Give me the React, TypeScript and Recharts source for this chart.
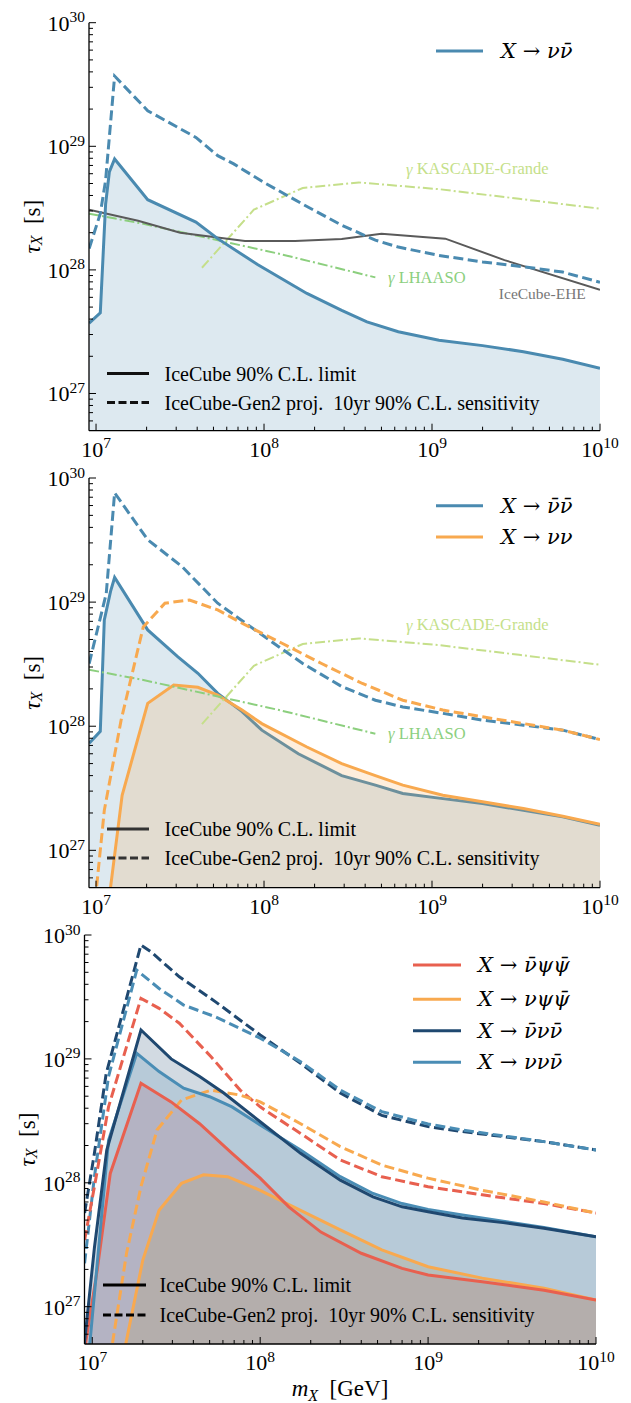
import React from 'react';
import { ComposedChart, Line, Area, XAxis, YAxis, Legend, ReferenceDot } from 'recharts';

const SERIF = '"Liberation Serif", "DejaVu Serif", serif';
const MATH = '"DejaVu Serif", "Liberation Serif", serif';
const W = 631;
const X_MAX = 1e10;
const Y_MIN = 5e26;
const Y_MAX = 1e30;

// tick values
const X_MAJOR = [1e7, 1e8, 1e9, 1e10];
const Y_MAJOR = [1e27, 1e28, 1e29, 1e30];
const MINOR_MULT = [2, 3, 4, 5, 6, 7, 8, 9];
const X_TICKS = [...X_MAJOR, ...[1e7, 1e8, 1e9].flatMap((d) => MINOR_MULT.map((k) => k * d))];
const Y_TICKS = [
  ...Y_MAJOR,
  6e26, 7e26, 8e26, 9e26,
  ...[1e27, 1e28, 1e29].flatMap((d) => MINOR_MULT.map((k) => k * d)),
];

// colours
const BLUE = '#4a8ab0';
const ORANGE = '#f8a94f';
const RED = '#e8604f';
const NAVY = '#1f4870';
const BLUE3 = '#4a8db5';
const LHAASO_C = '#8ccf7e';
const KASCADE_C = '#c5df8a';
const EHE_C = '#5a5a5a';

// ---------- shared gamma-ray / EHE bounds ----------
const lhaasoM = [9.1e6, 1.88e7, 4.55e7, 1.23e8, 4.6e8];
const lhaasoT = [2.85e28, 2.37e28, 1.82e28, 1.35e28, 8.7e27];
const kascadeM = [4.27e7, 8.7e7, 1.7e8, 3.67e8, 1.1e9, 3.3e9, 1e10];
const kascadeT = [1.04e28, 3.07e28, 4.6e28, 5.1e28, 4.5e28, 3.76e28, 3.13e28];
const eheM = [9.1e6, 1.78e7, 3.17e7, 7.7e7, 1.53e8, 2.9e8, 5e8, 1.2e9, 2.7e9, 1e10];
const eheT = [3.07e28, 2.5e28, 2.0e28, 1.71e28, 1.71e28, 1.78e28, 1.96e28, 1.79e28, 1.2e28, 6.9e27];

// ---------- panel 1: X -> nu nubar ----------
const p1LimM = [9.1e6, 1.06e7, 1.14e7, 1.2e7, 1.29e7, 2.03e7, 3.93e7, 5.3e7, 9.2e7, 1.8e8, 2.9e8, 4.1e8, 6.3e8, 1.1e9, 2.0e9, 3.5e9, 6.0e9, 1e10];
const p1LimT = [3.7e27, 4.5e27, 3.4e28, 6.2e28, 7.9e28, 3.7e28, 2.44e28, 1.79e28, 1.1e28, 6.45e27, 4.7e27, 3.8e27, 3.16e27, 2.7e27, 2.44e27, 2.18e27, 1.89e27, 1.6e27];
const p1SenM = [9.1e6, 1.06e7, 1.14e7, 1.29e7, 2.03e7, 3.93e7, 5.3e7, 6.6e7, 1e8, 1.7e8, 2.9e8, 4.6e8, 6.3e8, 1.1e9, 2e9, 3.5e9, 6e9, 1e10];
const p1SenT = [1.49e28, 2.85e28, 5.3e28, 3.7e29, 1.94e29, 1.18e29, 8.4e28, 7.2e28, 5.1e28, 3.4e28, 2.3e28, 1.74e28, 1.53e28, 1.31e28, 1.16e28, 1.06e28, 9.6e27, 7.95e27];

// ---------- panel 2: X -> nubar nubar, X -> nu nu ----------
const p2BarLimM = [9.1e6, 1.06e7, 1.12e7, 1.22e7, 1.29e7, 2.03e7, 3.06e7, 4.04e7, 5.3e7, 7.4e7, 9.7e7, 1.6e8, 2.9e8, 4.6e8, 6.7e8, 1.16e9, 2e9, 3.5e9, 6e9, 1e10];
const p2BarLimT = [7.3e27, 9.1e27, 7.2e28, 1.22e29, 1.58e29, 5.97e28, 3.63e28, 2.67e28, 1.84e28, 1.31e28, 9.3e27, 6.0e27, 4.0e27, 3.35e27, 2.87e27, 2.61e27, 2.38e27, 2.1e27, 1.86e27, 1.59e27];
const p2BarSenM = [9.1e6, 1.15e7, 1.29e7, 2.03e7, 3.24e7, 5.3e7, 1e8, 1.7e8, 2.9e8, 4.6e8, 6.7e8, 1.16e9, 2e9, 3.5e9, 6e9, 1e10];
const p2BarSenT = [3.2e28, 1.17e29, 7.6e29, 3.18e29, 1.94e29, 9.8e28, 5.3e28, 3.2e28, 2.09e28, 1.62e28, 1.43e28, 1.27e28, 1.12e28, 1.02e28, 9.3e27, 7.8e27];
const p2NuLimM = [1.17e7, 1.43e7, 2.03e7, 2.9e7, 4.04e7, 5.3e7, 7.4e7, 9.7e7, 1.8e8, 2.9e8, 4.6e8, 6.7e8, 1.16e9, 2e9, 3.5e9, 6e9, 1e10];
const p2NuLimT = [3.2e26, 2.78e27, 1.53e28, 2.15e28, 2.06e28, 1.78e28, 1.35e28, 1.05e28, 6.8e27, 5.0e27, 4.0e27, 3.35e27, 2.78e27, 2.46e27, 2.17e27, 1.88e27, 1.62e27];
const p2NuSenM = [9.5e6, 1.12e7, 1.41e7, 1.91e7, 2.57e7, 3.6e7, 5.3e7, 7.4e7, 1.28e8, 2.2e8, 3.85e8, 6.7e8, 1.16e9, 2e9, 3.5e9, 6e9, 1e10];
const p2NuSenT = [2.3e26, 2.1e27, 1.12e28, 6.3e28, 9.8e28, 1.04e29, 8.65e28, 6.76e28, 4.66e28, 3.2e28, 2.21e28, 1.62e28, 1.35e28, 1.19e28, 1.05e28, 9.3e27, 7.8e27];

// ---------- panel 3: three-body decays ----------
const p3NavyLimM = [8.9e6, 1.03e7, 1.22e7, 1.95e7, 2.95e7, 4.36e7, 6.07e7, 1e8, 1.74e8, 3e8, 4.7e8, 7e8, 1e9, 1.6e9, 2.8e9, 4.9e9, 1e10];
const p3NavyLimT = [4.5e26, 3.0e27, 1.84e28, 1.71e29, 1e29, 7.2e28, 5.3e28, 3.11e28, 1.73e28, 1.05e28, 7.7e27, 6.4e27, 5.85e27, 5.2e27, 4.77e27, 4.3e27, 3.67e27];
const p3BlueLimM = [9.6e6, 1.25e7, 1.84e7, 2.5e7, 3.5e7, 5e7, 6.8e7, 1e8, 1.74e8, 3e8, 4.7e8, 7e8, 1e9, 1.6e9, 2.8e9, 4.9e9, 1e10];
const p3BlueLimT = [4.5e26, 2.2e28, 1.11e29, 7.9e28, 5.8e28, 4.95e28, 4.1e28, 2.93e28, 1.84e28, 1.12e28, 8.2e27, 6.8e27, 6.1e27, 5.5e27, 4.9e27, 4.36e27, 3.67e27];
const p3RedLimM = [9.0e6, 1.07e7, 1.28e7, 1.95e7, 2.95e7, 4.36e7, 6.8e7, 1e8, 1.48e8, 2.3e8, 4e8, 7e8, 1e9, 2.1e9, 4.9e9, 1e10];
const p3RedLimT = [4.5e26, 1.98e27, 1.19e28, 6.36e28, 4.5e28, 3.0e28, 1.73e28, 1.09e28, 6.4e27, 4e27, 2.7e27, 2.04e27, 1.8e27, 1.59e27, 1.36e27, 1.13e27];
const p3OrgLimM = [1.5e7, 2e7, 2.5e7, 3.4e7, 4.6e7, 6.4e7, 1e8, 1.74e8, 3e8, 5.3e8, 1e9, 2.1e9, 4.9e9, 1e10];
const p3OrgLimT = [3.5e26, 2.38e27, 6e27, 9.9e27, 1.16e28, 1.12e28, 8.7e27, 6e27, 4.17e27, 2.87e27, 2.1e27, 1.7e27, 1.41e27, 1.13e27];
const p3NavySenM = [9.0e6, 1.03e7, 1.21e7, 1.95e7, 2.24e7, 3.3e7, 5.4e7, 1e8, 1.74e8, 3e8, 5.3e8, 1e9, 1.6e9, 2.8e9, 4.9e9, 1e10];
const p3NavySenT = [5.7e27, 1.73e28, 7.6e28, 8.3e29, 7.3e29, 4.6e29, 2.9e29, 1.56e29, 9.2e28, 5.3e28, 3.5e28, 2.84e28, 2.59e28, 2.36e28, 2.15e28, 1.84e28];
const p3BlueSenM = [9.0e6, 1.03e7, 1.25e7, 1.84e7, 2.5e7, 3.5e7, 5.4e7, 1e8, 1.74e8, 3e8, 5.3e8, 1e9, 1.6e9, 2.8e9, 4.9e9, 1e10];
const p3BlueSenT = [2.24e27, 1.12e28, 7.2e28, 5.2e29, 3.7e29, 2.72e29, 2.19e29, 1.47e29, 9.5e28, 5.6e28, 3.75e28, 2.98e28, 2.67e28, 2.39e28, 2.15e28, 1.84e28];
const p3RedSenM = [9.0e6, 1.03e7, 1.25e7, 1.95e7, 2.5e7, 3.3e7, 5.1e7, 7.6e7, 1e8, 1.74e8, 3e8, 5.3e8, 1e9, 2.1e9, 4.9e9, 1e10];
const p3RedSenT = [3.45e27, 9.3e27, 4.1e28, 3.08e29, 2.56e29, 1.94e29, 1.04e29, 5.6e28, 4.1e28, 2.5e28, 1.53e28, 1.12e28, 9.3e27, 8e27, 6.8e27, 5.7e27];
const p3OrgSenM = [1.28e7, 1.6e7, 1.95e7, 2.43e7, 3.4e7, 5.1e7, 7.6e7, 1e8, 1.74e8, 3e8, 5.3e8, 1e9, 2.1e9, 4.9e9, 1e10];
const p3OrgSenT = [3.9e26, 2.7e27, 9.3e27, 2.67e28, 4.66e28, 5.6e28, 5.1e28, 4.5e28, 3.0e28, 1.96e28, 1.39e28, 1.09e28, 8.7e27, 7.0e27, 5.7e27];

// legend labels
const p1Legend = [{ label: 'X → νν\u0304', color: BLUE }];
const p2Legend = [
  { label: 'X → ν\u0304ν\u0304', color: BLUE },
  { label: 'X → νν', color: ORANGE },
];
const p3Legend = [
  { label: 'X → ν\u0304ψψ\u0304', color: RED },
  { label: 'X → νψψ\u0304', color: ORANGE },
  { label: 'X → ν\u0304νν\u0304', color: NAVY },
  { label: 'X → ννν\u0304', color: BLUE3 },
];
const styleLegend = ['IceCube 90% C.L. limit', 'IceCube-Gen2 proj.\u00a0 10yr 90% C.L. sensitivity'];

// annotation anchors (data coordinates)
const kascadeLabel = { m: 7.0e8, t: 6.6e28, text: 'KASCADE-Grande' };
const lhaasoLabel = { m: 5.47e8, t: 8.75e27, text: 'LHAASO' };
const eheLabel = { m: 2.5e9, t: 6.5e27, text: 'IceCube-EHE' };

const zip = (m: number[], t: number[]) => m.map((v, i) => ({ m: v, t: t[i] }));

const isMajor = (v: number) => Math.abs(Math.log10(v) - Math.round(Math.log10(v))) < 1e-6;
const expOf = (v: number) => Math.round(Math.log10(v));
const MAJ = 7;
const MIN = 4;
const TICK_FS = 22;
const SUP_FS = 15.5;

function BottomTick(props: any) {
  const { x, y, payload } = props;
  const v = payload.value;
  const maj = isMajor(v);
  return (
    <g>
      <line x1={x} x2={x} y1={y} y2={y - (maj ? MAJ : MIN)} stroke="#000" strokeWidth={1} />
      {maj && (
        <text x={x} y={y + 26} textAnchor="middle" fontFamily={SERIF} fontSize={TICK_FS} fill="#000">
          10<tspan fontSize={SUP_FS} dy={-8.5}>{expOf(v)}</tspan>
        </text>
      )}
    </g>
  );
}
function TopTick(props: any) {
  const { x, y, payload } = props;
  const maj = isMajor(payload.value);
  return <line x1={x} x2={x} y1={y} y2={y + (maj ? MAJ : MIN)} stroke="#000" strokeWidth={1} />;
}
function LeftTick(props: any) {
  const { x, y, payload } = props;
  const v = payload.value;
  const maj = isMajor(v);
  return (
    <g>
      <line x1={x} x2={x + (maj ? MAJ : MIN)} y1={y} y2={y} stroke="#000" strokeWidth={1} />
      {maj && (
        <text x={x - 4} y={y + 8} textAnchor="end" fontFamily={SERIF} fontSize={TICK_FS} fill="#000">
          10<tspan fontSize={SUP_FS} dy={-8.5}>{expOf(v)}</tspan>
        </text>
      )}
    </g>
  );
}
function RightTick(props: any) {
  const { x, y, payload } = props;
  const maj = isMajor(payload.value);
  return <line x1={x} x2={x - (maj ? MAJ : MIN)} y1={y} y2={y} stroke="#000" strokeWidth={1} />;
}

function AnnLabel(props: any) {
  const { viewBox, text, color, size, gamma } = props;
  return (
    <text x={viewBox.x} y={viewBox.y} dominantBaseline="central" fontFamily={SERIF} fontSize={size} fill={color}>
      {gamma && <tspan fontStyle="italic">γ </tspan>}
      {text}
    </text>
  );
}

function MathLabel({ x, y, label, size }: { x: number; y: number; label: string; size: number }) {
  const [lhs, rhs] = label.split(' → ');
  return (
    <text x={x} y={y} dominantBaseline="central" fontFamily={MATH} fontSize={size} fill="#000">
      <tspan fontStyle="italic">{lhs}</tspan> → <tspan fontStyle="italic">{rhs}</tspan>
    </text>
  );
}

type OverlayProps = {
  height: number;
  yLabel: { x: number; y: number };
  top: { x1: number; x2: number; tx: number; ys: number[]; items: { label: string; color: string }[] };
  bottom: { x1: number; x2: number; tx: number; ys: number[]; color: string };
  xLabel?: { x: number; y: number };
};

function Overlay({ height, yLabel, top, bottom, xLabel }: OverlayProps) {
  return (
    <svg width={W} height={height} style={{ display: 'block', overflow: 'visible' }}>
      <text
        transform={`translate(${yLabel.x},${yLabel.y}) rotate(-90)`}
        textAnchor="middle"
        dominantBaseline="central"
        fontFamily={SERIF}
        fontSize={23}
        fill="#000"
      >
        <tspan fontStyle="italic">τ</tspan>
        <tspan fontStyle="italic" fontSize={16} dy={4}>X</tspan>
        <tspan dy={-4}>{'\u00a0 [s]'}</tspan>
      </text>
      {xLabel && (
        <text x={xLabel.x} y={xLabel.y} textAnchor="middle" fontFamily={SERIF} fontSize={23} fill="#000">
          <tspan fontStyle="italic">m</tspan>
          <tspan fontStyle="italic" fontSize={16} dy={5}>X</tspan>
          <tspan dy={-5}>{'\u00a0 [GeV]'}</tspan>
        </text>
      )}
      {top.items.map((it, i) => (
        <g key={i}>
          <line x1={top.x1} x2={top.x2} y1={top.ys[i]} y2={top.ys[i]} stroke={it.color} strokeWidth={3} />
          <MathLabel x={top.tx} y={top.ys[i]} label={it.label} size={21} />
        </g>
      ))}
      {styleLegend.map((txt, i) => (
        <g key={txt}>
          <line
            x1={bottom.x1}
            x2={bottom.x2}
            y1={bottom.ys[i]}
            y2={bottom.ys[i]}
            stroke={bottom.color}
            strokeWidth={2.8}
            strokeDasharray={i === 1 ? '8 3.5' : undefined}
          />
          <text x={bottom.tx} y={bottom.ys[i]} dominantBaseline="central" fontFamily={SERIF} fontSize={20} fill="#000">
            {txt}
          </text>
        </g>
      ))}
    </svg>
  );
}

const AXIS_LINE = { stroke: '#000', strokeWidth: 1.3 };

function Panel(props: {
  height: number;
  top: number;
  right: number;
  left: number;
  bottom: number;
  xMin: number;
  overlay: React.ReactElement;
  children: React.ReactNode;
}) {
  const { height, top, right, left, bottom, xMin, overlay, children } = props;
  const xCommon = {
    dataKey: 'm',
    type: 'number' as const,
    scale: 'log' as const,
    domain: [xMin, X_MAX],
    allowDataOverflow: true,
    ticks: X_TICKS,
    interval: 0 as const,
    tickLine: false,
    tickSize: 0,
    tickMargin: 0,
    axisLine: AXIS_LINE,
  };
  const yCommon = {
    dataKey: 't',
    type: 'number' as const,
    scale: 'log' as const,
    domain: [Y_MIN, Y_MAX],
    allowDataOverflow: true,
    ticks: Y_TICKS,
    interval: 0 as const,
    tickLine: false,
    tickSize: 0,
    tickMargin: 0,
    axisLine: AXIS_LINE,
  };
  return (
    <ComposedChart width={W} height={height} margin={{ top, right, bottom: 0, left: 0 }}>
      <XAxis xAxisId="b" {...xCommon} height={bottom} tick={BottomTick} />
      <XAxis xAxisId="t" orientation="top" {...xCommon} height={0} tick={TopTick} />
      <YAxis yAxisId="l" {...yCommon} width={left} tick={LeftTick} />
      <YAxis yAxisId="r" orientation="right" {...yCommon} width={0} tick={RightTick} />
      {children}
      <Legend
        verticalAlign="middle"
        align="center"
        layout="horizontal"
        wrapperStyle={{ left: 0, top: 0, width: W, height, pointerEvents: 'none' }}
        content={() => overlay}
      />
    </ComposedChart>
  );
}

const ax = { xAxisId: 'b', yAxisId: 'l', isAnimationActive: false, dot: false, activeDot: false, type: 'linear' as const, dataKey: 't' };
const DASH = '10 4.5';
const DASHDOT = '10 3 2 3';

export default function App() {
  return (
    <div style={{ position: 'absolute', left: 0, top: 0, width: W, height: 1403, background: '#fff' }}>
      {/* Panel 1 */}
      <Panel
        height={463}
        top={22.7}
        right={31}
        left={89}
        bottom={32.3}
        xMin={9.08e6}
        overlay={
          <Overlay
            height={463}
            yLabel={{ x: 32, y: 226.7 }}
            top={{ x1: 436, x2: 483, tx: 501, ys: [51], items: p1Legend }}
            bottom={{ x1: 107, x2: 149, tx: 164.5, ys: [373.5, 402.5], color: '#111' }}
          />
        }
      >
        <Area {...ax} data={zip(p1LimM, p1LimT)} stroke="none" fill={BLUE} fillOpacity={0.19} baseValue={Y_MIN} />
        <Line {...ax} data={zip(lhaasoM, lhaasoT)} stroke={LHAASO_C} strokeWidth={2} strokeDasharray={DASHDOT} />
        <Line {...ax} data={zip(kascadeM, kascadeT)} stroke={KASCADE_C} strokeWidth={2} strokeDasharray={DASHDOT} />
        <Line {...ax} data={zip(eheM, eheT)} stroke={EHE_C} strokeWidth={2} />
        <Line {...ax} data={zip(p1SenM, p1SenT)} stroke={BLUE} strokeWidth={3} strokeDasharray={DASH} />
        <Line {...ax} data={zip(p1LimM, p1LimT)} stroke={BLUE} strokeWidth={3} />
        <ReferenceDot xAxisId="b" yAxisId="l" x={kascadeLabel.m} y={kascadeLabel.t} r={0} fill="none" stroke="none" ifOverflow="visible"
          label={<AnnLabel text={kascadeLabel.text} color={KASCADE_C} size={16.5} gamma />} />
        <ReferenceDot xAxisId="b" yAxisId="l" x={lhaasoLabel.m} y={lhaasoLabel.t} r={0} fill="none" stroke="none" ifOverflow="visible"
          label={<AnnLabel text={lhaasoLabel.text} color={LHAASO_C} size={16.5} gamma />} />
        <ReferenceDot xAxisId="b" yAxisId="l" x={eheLabel.m} y={eheLabel.t} r={0} fill="none" stroke="none" ifOverflow="visible"
          label={<AnnLabel text={eheLabel.text} color="#777" size={15.5} />} />
      </Panel>

      {/* Panel 2 */}
      <Panel
        height={457}
        top={15}
        right={31}
        left={89}
        bottom={32.3}
        xMin={9.08e6}
        overlay={
          <Overlay
            height={457}
            yLabel={{ x: 32, y: 219.9 }}
            top={{ x1: 436, x2: 483, tx: 501, ys: [42.7, 74], items: p2Legend }}
            bottom={{ x1: 107, x2: 149, tx: 164.5, ys: [366, 395], color: '#333' }}
          />
        }
      >
        <Line {...ax} data={zip(lhaasoM, lhaasoT)} stroke={LHAASO_C} strokeWidth={2} strokeDasharray={DASHDOT} />
        <Line {...ax} data={zip(kascadeM, kascadeT)} stroke={KASCADE_C} strokeWidth={2} strokeDasharray={DASHDOT} />
        <Area {...ax} data={zip(p2BarLimM, p2BarLimT)} stroke={BLUE} strokeWidth={3} fill={BLUE} fillOpacity={0.19} baseValue={Y_MIN} />
        <Area {...ax} data={zip(p2NuLimM, p2NuLimT)} stroke={ORANGE} strokeWidth={3} fill={ORANGE} fillOpacity={0.2} baseValue={Y_MIN} />
        <Line {...ax} data={zip(p2BarSenM, p2BarSenT)} stroke={BLUE} strokeWidth={3} strokeDasharray={DASH} />
        <Line {...ax} data={zip(p2NuSenM, p2NuSenT)} stroke={ORANGE} strokeWidth={3} strokeDasharray={DASH} />
        <ReferenceDot xAxisId="b" yAxisId="l" x={kascadeLabel.m} y={kascadeLabel.t} r={0} fill="none" stroke="none" ifOverflow="visible"
          label={<AnnLabel text={kascadeLabel.text} color={KASCADE_C} size={16.5} gamma />} />
        <ReferenceDot xAxisId="b" yAxisId="l" x={lhaasoLabel.m} y={lhaasoLabel.t} r={0} fill="none" stroke="none" ifOverflow="visible"
          label={<AnnLabel text={lhaasoLabel.text} color={LHAASO_C} size={16.5} gamma />} />
      </Panel>

      {/* Panel 3 */}
      <Panel
        height={483}
        top={15}
        right={35}
        left={84.5}
        bottom={59}
        xMin={8.99e6}
        overlay={
          <Overlay
            height={483}
            yLabel={{ x: 27, y: 219.5 }}
            top={{ x1: 413, x2: 461, tx: 478, ys: [45, 79.3, 110.7, 142.3], items: p3Legend }}
            bottom={{ x1: 103, x2: 146, tx: 159.5, ys: [365, 395], color: '#000' }}
            xLabel={{ x: 340, y: 476 }}
          />
        }
      >
        <Area {...ax} data={zip(p3NavyLimM, p3NavyLimT)} stroke="none" fill={NAVY} fillOpacity={0.2} baseValue={Y_MIN} />
        <Area {...ax} data={zip(p3BlueLimM, p3BlueLimT)} stroke="none" fill={BLUE3} fillOpacity={0.2} baseValue={Y_MIN} />
        <Area {...ax} data={zip(p3RedLimM, p3RedLimT)} stroke="none" fill="#ab6f82" fillOpacity={0.25} baseValue={Y_MIN} />
        <Area {...ax} data={zip(p3OrgLimM, p3OrgLimT)} stroke="none" fill="#b4a068" fillOpacity={0.25} baseValue={Y_MIN} />
        <Line {...ax} data={zip(p3NavySenM, p3NavySenT)} stroke={NAVY} strokeWidth={3} strokeDasharray={DASH} />
        <Line {...ax} data={zip(p3BlueSenM, p3BlueSenT)} stroke={BLUE3} strokeWidth={3} strokeDasharray={DASH} />
        <Line {...ax} data={zip(p3RedSenM, p3RedSenT)} stroke={RED} strokeWidth={3} strokeDasharray={DASH} />
        <Line {...ax} data={zip(p3OrgSenM, p3OrgSenT)} stroke={ORANGE} strokeWidth={3} strokeDasharray={DASH} />
        <Line {...ax} data={zip(p3OrgLimM, p3OrgLimT)} stroke={ORANGE} strokeWidth={3} />
        <Line {...ax} data={zip(p3RedLimM, p3RedLimT)} stroke={RED} strokeWidth={3} />
        <Line {...ax} data={zip(p3BlueLimM, p3BlueLimT)} stroke={BLUE3} strokeWidth={3} />
        <Line {...ax} data={zip(p3NavyLimM, p3NavyLimT)} stroke={NAVY} strokeWidth={3} />
      </Panel>
    </div>
  );
}
